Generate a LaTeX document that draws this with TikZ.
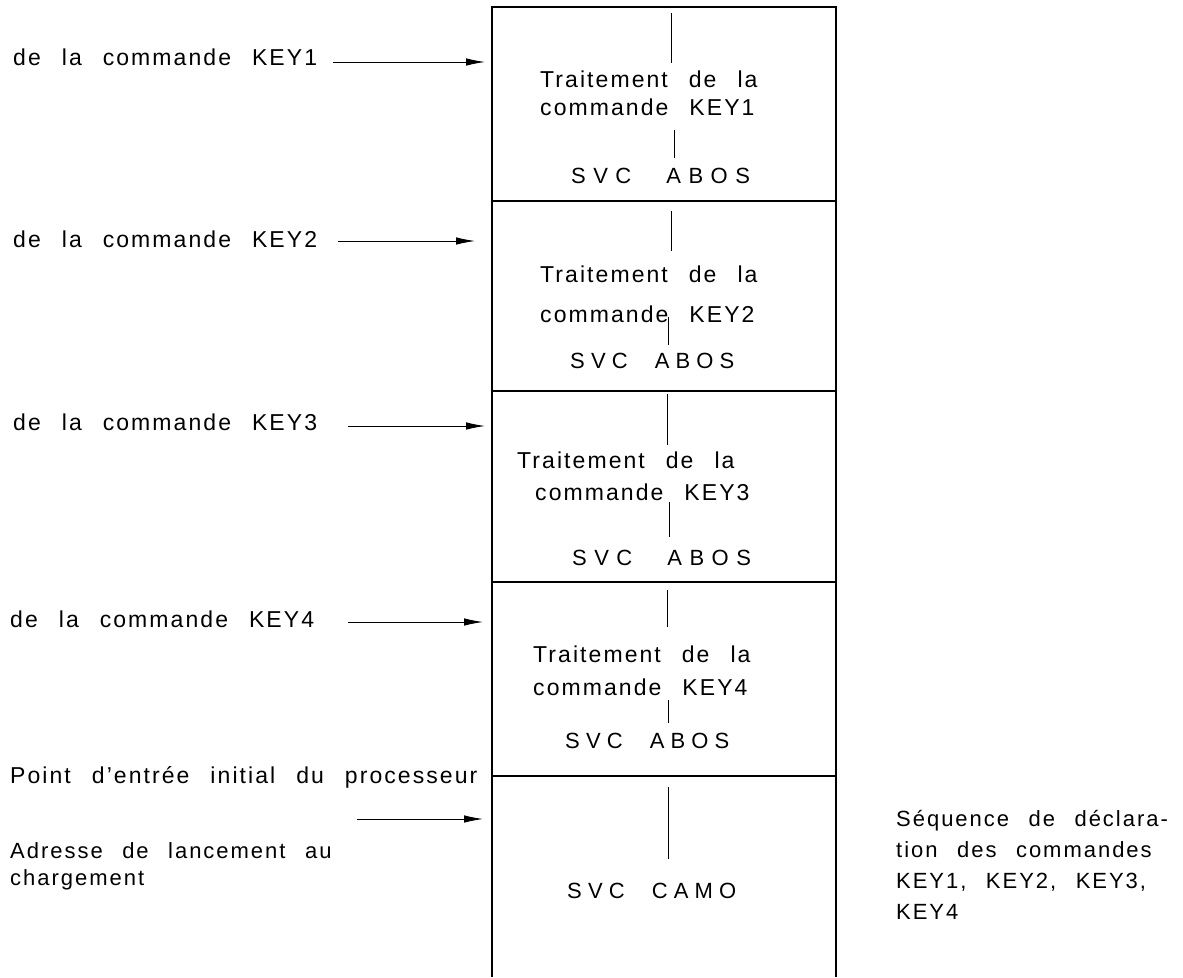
\documentclass[tikz,border=0pt]{standalone}
\usepackage{fontspec}
\setmainfont{Liberation Sans}
\newfontfamily\lblfont[LetterSpace=9]{Liberation Sans}
\newfontfamily\svcfont[LetterSpace=28]{Liberation Sans}
\newfontfamily\svcwidefont[LetterSpace=34]{Liberation Sans}
\newcommand\wordgap[1]{\spaceskip=#1\relax\xspaceskip=#1\relax}
\usetikzlibrary{arrows.meta}
\definecolor{ink}{HTML}{000000}
\tikzset{
  lbl/.style={anchor=base west,inner sep=0pt,text=ink,
              font=\lblfont\fontsize{23}{27}\selectfont\wordgap{21pt}},
  boxtxt/.style={lbl,font=\lblfont\fontsize{23}{27}\selectfont\wordgap{21pt}},
  svc/.style={lbl,font=\svcfont\fontsize{22}{27}\selectfont\wordgap{27pt}},
  svcwide/.style={lbl,font=\svcwidefont\fontsize{22}{27}\selectfont\wordgap{35pt}},
  note/.style={lbl,align=left,anchor=north west,
               font=\lblfont\fontsize{22}{27}\selectfont\wordgap{19.5pt}},
  wall/.style={line width=1.3pt,draw=ink},
  flow/.style={line width=0.9pt,draw=ink},
  callflow/.style={-{Latex[length=19pt,width=7.5pt]},line width=0.9pt,draw=ink}
}

\begin{document}
\begin{tikzpicture}[x=1pt,y=-1pt]
  \useasboundingbox (0,0) rectangle (1183,977);
  % the stack of sections
  \draw[wall] (492,977) -- (492,7) -- (836,7) -- (836,977);
  \draw[wall] (492,201) -- (836,201);
  \draw[wall] (492,391) -- (836,391);
  \draw[wall] (492,582) -- (836,582);
  \draw[wall] (492,776) -- (836,776);

  % section texts
  \node[boxtxt] (t1) at (540,87) {Traitement de la};
  \node[boxtxt] (c1) at (540,115) {commande KEY1};
  \node[svcwide] (s1) at (571,183) {SVC ABOS};
  \node[boxtxt] (t2) at (540,282) {Traitement de la};
  \node[boxtxt] (c2) at (540,322) {commande KEY2};
  \node[svc] (s2) at (570,368) {SVC ABOS};
  \node[boxtxt] (t3) at (517,468) {Traitement de la};
  \node[boxtxt] (c3) at (535,500) {commande KEY3};
  \node[svcwide] (s3) at (572,565) {SVC ABOS};
  \node[boxtxt] (t4) at (533,662) {Traitement de la};
  \node[boxtxt] (c4) at (533,695) {commande KEY4};
  \node[svc] (s4) at (565,748) {SVC ABOS};
  \node[svc] (s5) at (567,898) {SVC CAMO};

  % flow inside the sections
  \draw[flow] (671,13) -- (671,63);  \draw[flow] (674,130) -- (674,158);
  \draw[flow] (671,211) -- (671,251); \draw[flow] (668,317) -- (668,345);
  \draw[flow] (667,394) -- (667,445); \draw[flow] (669,502) -- (669,537);
  \draw[flow] (667,590) -- (667,627); \draw[flow] (668,700) -- (668,723);
  \draw[flow] (668,787) -- (668,859);

  % entry points
  \node[lbl] (k1) at (13,65) {de la commande KEY1};
  \node[lbl] (k2) at (13,247) {de la commande KEY2};
  \node[lbl] (k3) at (13,430) {de la commande KEY3};
  \node[lbl] (k4) at (10,627) {de la commande KEY4};
  \node[boxtxt] (pe) at (10,783) {Point d’entrée initial du processeur};
  \node[note] (al) at (10,842) {Adresse de lancement au\\chargement};
  \node[note,font=\lblfont\fontsize{22}{31}\selectfont\wordgap{19.5pt}] (sq) at (896,810)
    {Séquence de déclara-\\tion des commandes\\KEY1, KEY2, KEY3,\\KEY4};

  \coordinate (o1) at (333,62);  \coordinate (i1) at (485,62);
  \coordinate (o2) at (338,241); \coordinate (i2) at (475,241);
  \coordinate (o3) at (348,426); \coordinate (i3) at (485,426);
  \coordinate (o4) at (348,622); \coordinate (i4) at (483,622);
  \coordinate (o5) at (357,819); \coordinate (i5) at (483,819);
  \draw[callflow] (o1) -- (i1);
  \draw[callflow] (o2) -- (i2);
  \draw[callflow] (o3) -- (i3);
  \draw[callflow] (o4) -- (i4);
  \draw[callflow] (o5) -- (i5);
\end{tikzpicture}
\end{document}
